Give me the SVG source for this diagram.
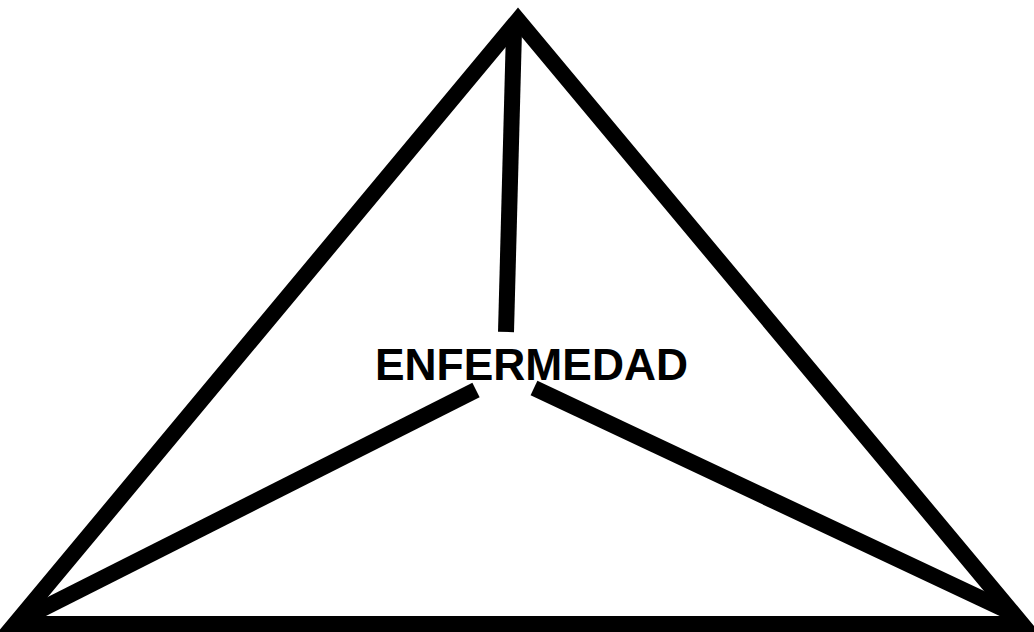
<svg xmlns="http://www.w3.org/2000/svg" width="1034" height="632" viewBox="0 0 1034 632">
<style>
.edge{fill:none;stroke:#000;stroke-width:16;stroke-linejoin:miter;stroke-miterlimit:10}
.spoke{stroke:#000;stroke-width:16;stroke-linecap:butt}
.label{font-family:"Liberation Sans",Arial,sans-serif;font-weight:bold;font-size:45px;fill:#000}
</style>
<rect width="1034" height="632" fill="#fff"/>
<g id="triangle">
<polygon class="edge" points="518,20 15,624 1022,624"/>
</g>
<g id="connectors">
<line class="spoke" x1="514" y1="30" x2="506" y2="332"/>
<line class="spoke" x1="476" y1="390" x2="24" y2="618"/>
<line class="spoke" x1="534" y1="388" x2="1010" y2="612"/>
</g>
<g id="center">
<text class="label" x="375" y="380" textLength="313" lengthAdjust="spacingAndGlyphs">ENFERMEDAD</text>
</g>
</svg>
